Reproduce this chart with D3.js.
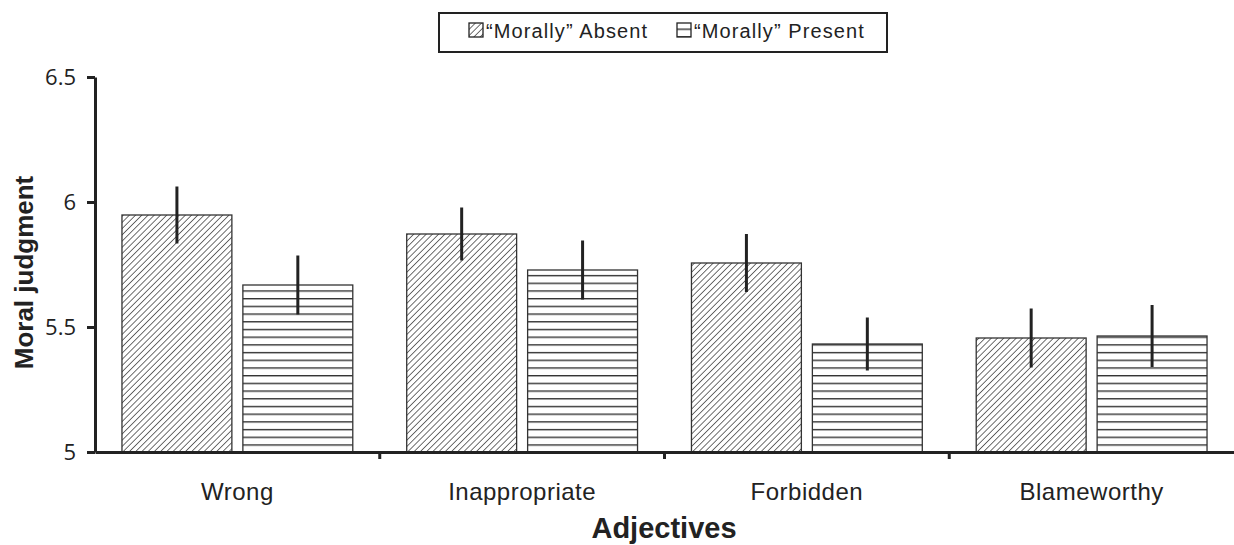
<!DOCTYPE html>
<html><head><meta charset="utf-8">
<script src="https://cdn.jsdelivr.net/npm/d3@7"></script>
<style>body{margin:0;background:#fff}</style>
</head><body>
<svg id="chart" width="1234" height="545"></svg>
<script>
const categories = ["Wrong", "Inappropriate", "Forbidden", "Blameworthy"];
const seriesNames = ["\u201cMorally\u201d Absent", "\u201cMorally\u201d Present"];
const absentMeans = [5.948, 5.872, 5.756, 5.456];
const presentMeans = [5.668, 5.728, 5.432, 5.464];
const absentErr = [0.114, 0.106, 0.116, 0.118];
const presentErr = [0.118, 0.118, 0.106, 0.124];
const yTicks = [5, 5.5, 6, 6.5];
const yTickLabels = ["5", "5.5", "6", "6.5"];

const svg = d3.select("#chart");
const W = 1234, H = 545;
const m = {left: 95, right: 0, top: 77, bottom: 93};

const defs = svg.append("defs");
const pd = defs.append("pattern").attr("id","diag").attr("patternUnits","userSpaceOnUse")
  .attr("width",4.4).attr("height",4.4).attr("patternTransform","rotate(45)");
pd.append("rect").attr("width",4.4).attr("height",4.4).attr("fill","#fff");
pd.append("line").attr("x1",0).attr("y1",0).attr("x2",0).attr("y2",4.4)
  .attr("stroke","#222").attr("stroke-width",1.3);
const ph = defs.append("pattern").attr("id","horiz").attr("patternUnits","userSpaceOnUse")
  .attr("width",10).attr("height",7.7).attr("y",452);
ph.append("rect").attr("width",10).attr("height",7.7).attr("fill","#fff");
ph.append("line").attr("x1",0).attr("y1",0.7).attr("x2",10).attr("y2",0.7)
  .attr("stroke","#333").attr("stroke-width",1.4);
const fills = ["url(#diag)", "url(#horiz)"];

const x0 = d3.scaleBand().domain(categories).range([m.left, W - m.right]).paddingInner(0).paddingOuter(0);
const x1 = d3.scaleBand().domain([0,1]).range([0, x0.bandwidth()]).paddingInner(0.091).paddingOuter(0.223);
const y = d3.scaleLinear().domain([5, 6.5]).range([H - m.bottom, m.top]);

const data = categories.map((c,i)=>({cat:c, vals:[
  {s:0, v:absentMeans[i], e:absentErr[i]},
  {s:1, v:presentMeans[i], e:presentErr[i]}]}));

const g = svg.append("g").selectAll("g").data(data).join("g")
  .attr("transform", d=>`translate(${x0(d.cat)},0)`);
g.selectAll("rect").data(d=>d.vals).join("rect")
  .attr("x", d=>x1(d.s)).attr("width", x1.bandwidth())
  .attr("y", d=>y(d.v)).attr("height", d=>y(5)-y(d.v))
  .attr("fill", d=>fills[d.s]).attr("stroke","#333").attr("stroke-width",1.3);
g.selectAll("line.err").data(d=>d.vals).join("line").attr("class","err")
  .attr("x1", d=>x1(d.s)+x1.bandwidth()/2).attr("x2", d=>x1(d.s)+x1.bandwidth()/2)
  .attr("y1", d=>y(d.v+d.e)).attr("y2", d=>y(d.v-d.e))
  .attr("stroke","#222").attr("stroke-width",3);

// Y axis
const yAxis = d3.axisLeft(y).tickValues(yTicks).tickFormat((d,i)=>yTickLabels[i]).tickSize(8).tickSizeOuter(0);
const ya = svg.append("g").attr("transform",`translate(${m.left},0)`).call(yAxis);
ya.select(".domain").attr("stroke","#222").attr("stroke-width",3);
ya.selectAll(".tick line").attr("stroke","#222").attr("stroke-width",3);
ya.selectAll(".tick text").attr("font-family","'Open Sans', sans-serif").attr("font-size",22)
  .attr("fill","#222").attr("x",-19);

// X axis
const xa = svg.append("g").attr("transform",`translate(0,${H - m.bottom})`)
  .call(d3.axisBottom(x0).tickSize(0).tickPadding(31));
xa.select(".domain").attr("stroke","#222").attr("stroke-width",3);
xa.selectAll(".tick text").attr("font-family","'Liberation Sans', Arial, sans-serif")
  .attr("font-size",24).attr("letter-spacing",0.5).attr("fill","#222");
xa.selectAll("line.sep").data(categories.slice(1)).join("line").attr("class","sep")
  .attr("x1", d=>x0(d)).attr("x2", d=>x0(d)).attr("y1",0).attr("y2",7)
  .attr("stroke","#222").attr("stroke-width",3);

// Axis titles
svg.append("text").attr("transform",`translate(33,${(m.top + H - m.bottom)/2 + 8}) rotate(-90)`)
  .attr("text-anchor","middle").attr("font-family","'Liberation Sans', Arial, sans-serif")
  .attr("font-weight","bold").attr("font-size",26).attr("fill","#222").text("Moral judgment");
svg.append("text").attr("x",664).attr("y",538).attr("text-anchor","middle")
  .attr("font-family","'Liberation Sans', Arial, sans-serif")
  .attr("font-weight","bold").attr("font-size",29).attr("fill","#222").text("Adjectives");

// Legend
const lg = svg.append("g");
lg.append("rect").attr("x",439).attr("y",13).attr("width",448).attr("height",39)
  .attr("fill","#fff").attr("stroke","#222").attr("stroke-width",2);
const legX = [469, 677];
seriesNames.forEach((s,i)=>{
  lg.append("rect").attr("x",legX[i]).attr("y",23).attr("width",14).attr("height",14)
    .attr("fill",fills[i]).attr("stroke","#222").attr("stroke-width",1.3);
  lg.append("text").attr("x",legX[i]+17).attr("y",38)
    .attr("font-family","'Liberation Sans', Arial, sans-serif").attr("font-size",20)
    .attr("letter-spacing",1.1).attr("fill","#222").text(s);
});
</script>
</body></html>
